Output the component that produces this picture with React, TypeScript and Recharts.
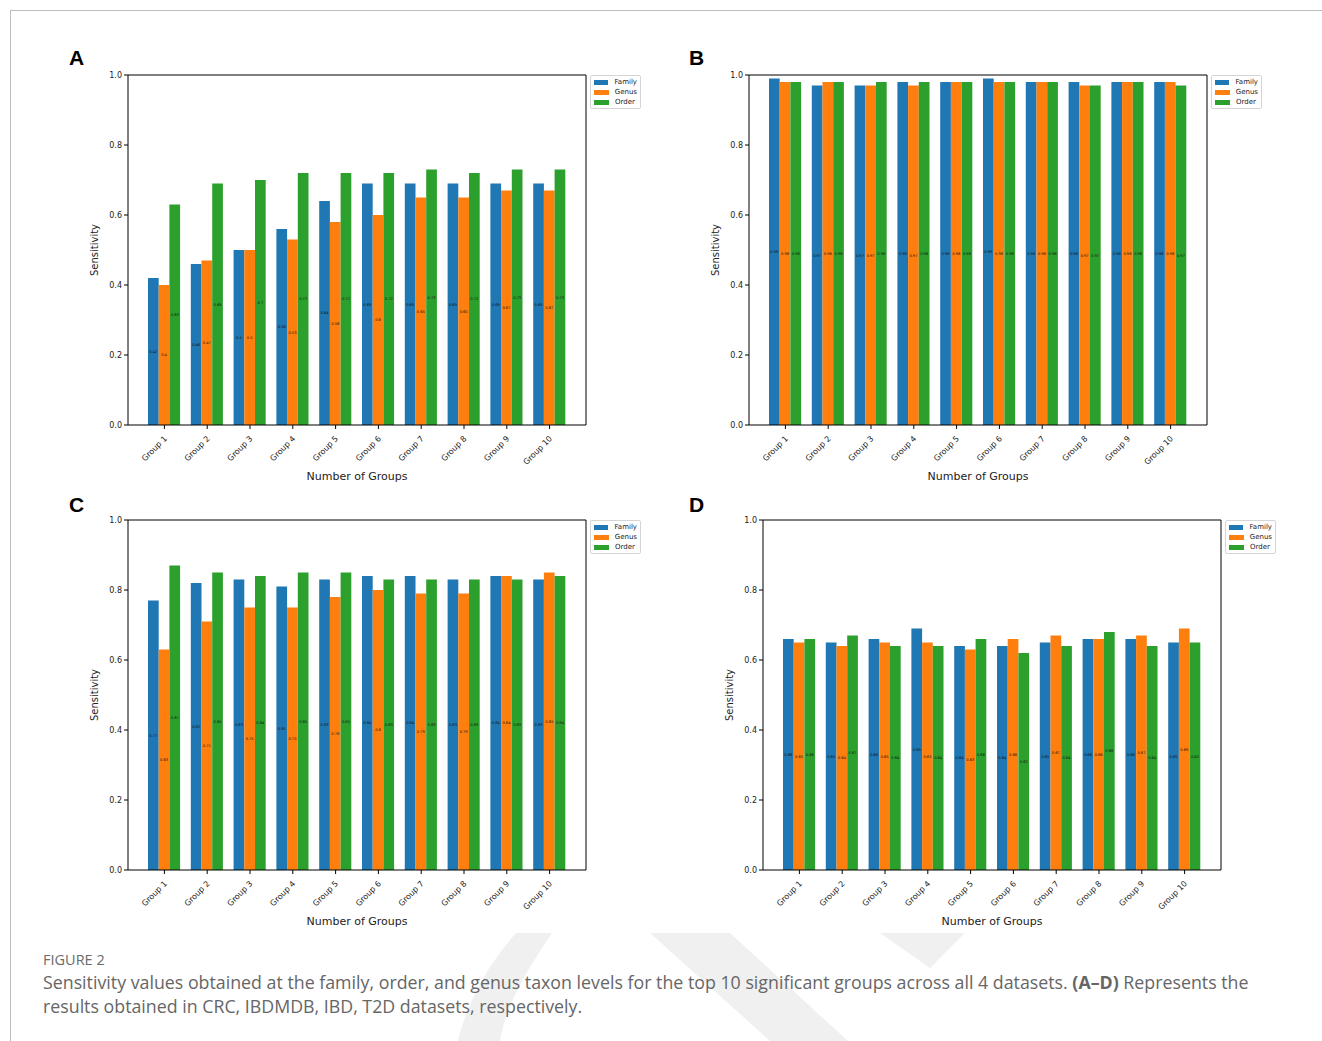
import React from 'react';
import { BarChart, Bar, XAxis, YAxis, Legend, LabelList } from 'recharts';

const groups = ['Group 1', 'Group 2', 'Group 3', 'Group 4', 'Group 5', 'Group 6', 'Group 7', 'Group 8', 'Group 9', 'Group 10'];
const yTicks = [0, 0.2, 0.4, 0.6, 0.8, 1.0];

// Panel A (CRC)
const aFamily = [0.42, 0.46, 0.5, 0.56, 0.64, 0.69, 0.69, 0.69, 0.69, 0.69];
const aGenus = [0.4, 0.47, 0.5, 0.53, 0.58, 0.6, 0.65, 0.65, 0.67, 0.67];
const aOrder = [0.63, 0.69, 0.7, 0.72, 0.72, 0.72, 0.73, 0.72, 0.73, 0.73];
// Panel B (IBDMDB)
const bFamily = [0.99, 0.97, 0.97, 0.98, 0.98, 0.99, 0.98, 0.98, 0.98, 0.98];
const bGenus = [0.98, 0.98, 0.97, 0.97, 0.98, 0.98, 0.98, 0.97, 0.98, 0.98];
const bOrder = [0.98, 0.98, 0.98, 0.98, 0.98, 0.98, 0.98, 0.97, 0.98, 0.97];
// Panel C (IBD)
const cFamily = [0.77, 0.82, 0.83, 0.81, 0.83, 0.84, 0.84, 0.83, 0.84, 0.83];
const cGenus = [0.63, 0.71, 0.75, 0.75, 0.78, 0.8, 0.79, 0.79, 0.84, 0.85];
const cOrder = [0.87, 0.85, 0.84, 0.85, 0.85, 0.83, 0.83, 0.83, 0.83, 0.84];
// Panel D (T2D)
const dFamily = [0.66, 0.65, 0.66, 0.69, 0.64, 0.64, 0.65, 0.66, 0.66, 0.65];
const dGenus = [0.65, 0.64, 0.65, 0.65, 0.63, 0.66, 0.67, 0.66, 0.67, 0.69];
const dOrder = [0.66, 0.67, 0.64, 0.64, 0.66, 0.62, 0.64, 0.68, 0.64, 0.65];

const series = [
  { key: 'family', name: 'Family', color: '#1f77b4' },
  { key: 'genus', name: 'Genus', color: '#ff7f0e' },
  { key: 'order', name: 'Order', color: '#2ca02c' },
];

const build = (fam: number[], gen: number[], ord: number[]) =>
  groups.map((g, i) => ({ group: g, family: fam[i], genus: gen[i], order: ord[i] }));

const FONT = '"DejaVu Sans", sans-serif';
const PLOT_W = 458;
const PLOT_H = 350;
const Y_W = 40;
const TOP_M = 9;
const X_H = 60;
const LEG_W = 54;

const XTick = (props: any) => {
  const { x, y, payload } = props;
  return (
    <g transform={`translate(${x + 1},${y + 6})`}>
      <text transform="rotate(-45)" textAnchor="end" fontSize={8} fontFamily={FONT} fill="#222" dy={3}>
        {payload.value}
      </text>
    </g>
  );
};

const LegendBox = () => (
  <div style={{ marginLeft: 3, marginTop: 1, width: 51, boxSizing: 'border-box', border: '1px solid #d5d5d5', borderRadius: 2, padding: '1px 3px 1px 3px', background: '#fff', fontFamily: FONT, fontSize: 7, color: '#222', lineHeight: '10px' }}>
    {series.map((s) => (
      <div key={s.key} style={{ display: 'flex', alignItems: 'center', height: 10 }}>
        <span style={{ display: 'inline-block', width: 15, height: 5, background: s.color, marginRight: 6 }} />
        <span>{s.name}</span>
      </div>
    ))}
  </div>
);

const Panel = ({ data, plotLeft, plotTop, letter, letterX, letterY }: { data: any[]; plotLeft: number; plotTop: number; letter: string; letterX: number; letterY: number }) => {
  const left = plotLeft - Y_W;
  const top = plotTop - TOP_M - 1;
  return (
    <>
      <div style={{ position: 'absolute', left: letterX, top: letterY, fontFamily: '"Liberation Sans", Arial, sans-serif', fontWeight: 700, fontSize: 21, color: '#000', lineHeight: '21px' }}>
        {letter}
      </div>
      <div style={{ position: 'absolute', left, top }}>
        <BarChart
          width={Y_W + PLOT_W + 1 + LEG_W}
          height={TOP_M + 1 + PLOT_H + X_H}
          data={data}
          margin={{ top: TOP_M, right: 0, bottom: 0, left: 0 }}
          barGap={0}
        >
          <XAxis
            dataKey="group"
            interval={0}
            padding={{ left: 15, right: 15 }}
            height={X_H}
            tick={<XTick />}
            tickSize={4}
            axisLine={{ stroke: '#000' }}
            tickLine={{ stroke: '#000' }}
            label={{ value: 'Number of Groups', position: 'insideBottom', offset: 5, fontSize: 11, fontFamily: FONT, fill: '#222' }}
          />
          <XAxis xAxisId="top" orientation="top" dataKey="group" height={1} tick={false} tickLine={false} axisLine={{ stroke: '#000' }} />
          <YAxis
            domain={[0, 1]}
            ticks={yTicks}
            width={Y_W}
            tickSize={4}
            tickFormatter={(v: number) => v.toFixed(1)}
            tick={{ fontSize: 8, fontFamily: FONT, fill: '#222' }}
            axisLine={{ stroke: '#000' }}
            tickLine={{ stroke: '#000' }}
            label={{ value: 'Sensitivity', angle: -90, position: 'insideLeft', offset: 6, fontSize: 10, fontFamily: FONT, fill: '#222', style: { textAnchor: 'middle' } }}
          />
          <YAxis yAxisId="right" orientation="right" domain={[0, 1]} width={1} tick={false} tickLine={false} axisLine={{ stroke: '#000' }} />
          <Legend layout="vertical" align="right" verticalAlign="top" content={<LegendBox />} />
          {series.map((s) => (
            <Bar key={s.key} dataKey={s.key} name={s.name} fill={s.color} barSize={10.7} isAnimationActive={false}>
              <LabelList dataKey={s.key} position="center" fontSize={3.6} fontFamily={FONT} fill="#111" />
            </Bar>
          ))}
        </BarChart>
      </div>
    </>
  );
};

export default function App() {
  return (
    <div style={{ position: 'absolute', left: 0, top: 0, width: 1322, height: 1041, background: '#fff', overflow: 'hidden' }}>
      <svg width={1322} height={1041} style={{ position: 'absolute', left: 0, top: 0 }}>
        <path d="M 516 933 L 552 933 C 520 980 505 1010 500 1041 L 458 1041 C 468 1000 488 965 516 933 Z" fill="#f0f0f0" />
        <path d="M 650 933 L 730 933 L 848 1041 L 770 1041 Z" fill="#f0f0f0" />
        <path d="M 880 933 L 965 933 L 930 968 Z" fill="#f0f0f0" />
        <line x1={10} y1={10.5} x2={1322} y2={10.5} stroke="#bdbdbd" strokeWidth={1} />
        <line x1={10.5} y1={10} x2={10.5} y2={1041} stroke="#bdbdbd" strokeWidth={1} />
      </svg>
      <Panel data={build(aFamily, aGenus, aOrder)} plotLeft={128} plotTop={75} letter="A" letterX={69} letterY={47} />
      <Panel data={build(bFamily, bGenus, bOrder)} plotLeft={749} plotTop={75} letter="B" letterX={689} letterY={47} />
      <Panel data={build(cFamily, cGenus, cOrder)} plotLeft={128} plotTop={520} letter="C" letterX={69} letterY={494} />
      <Panel data={build(dFamily, dGenus, dOrder)} plotLeft={763} plotTop={520} letter="D" letterX={689} letterY={494} />
      <div style={{ position: 'absolute', left: 43, top: 951, fontFamily: '"Open Sans", sans-serif', fontSize: 14.5, color: '#6b6b6b', lineHeight: '18px', whiteSpace: 'nowrap' }}>
        FIGURE 2
      </div>
      <div style={{ position: 'absolute', left: 43, top: 970, fontFamily: '"Open Sans", sans-serif', fontSize: 17.8, color: '#666', lineHeight: '24px', whiteSpace: 'nowrap' }}>
        <div>
          Sensitivity values obtained at the family, order, and genus taxon levels for the top 10 significant groups across all 4 datasets. <b>(A–D)</b> Represents the
        </div>
        <div>results obtained in CRC, IBDMDB, IBD, T2D datasets, respectively.</div>
      </div>
    </div>
  );
}
